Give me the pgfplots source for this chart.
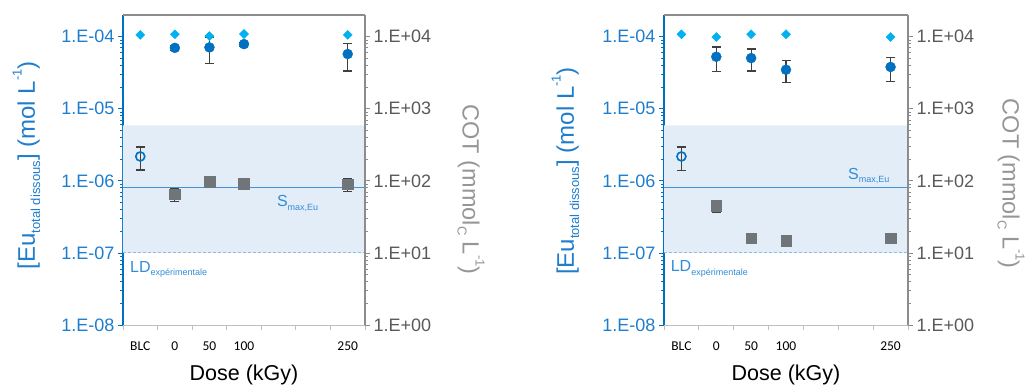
\documentclass[border=0pt]{standalone}
\usepackage{fontspec}
\setmainfont{Liberation Sans}
\newfontfamily\carlito{Carlito}
\usepackage{pgfplots}
\pgfplotsset{compat=1.18}
\definecolor{eublue}{RGB}{0,112,192}
\definecolor{ticblue}{RGB}{30,125,205}
\definecolor{diamc}{RGB}{0,176,240}
\definecolor{bandc}{RGB}{227,237,248}
\definecolor{smaxc}{RGB}{70,145,215}
\definecolor{ldc}{RGB}{140,185,230}
\definecolor{txtb}{RGB}{50,140,215}
\definecolor{sqc}{RGB}{112,117,122}
\definecolor{errc}{RGB}{64,64,64}
\definecolor{rgray}{RGB}{89,89,89}
\definecolor{cotgray}{RGB}{150,150,150}
\definecolor{axgray}{RGB}{140,140,140}
\definecolor{xgray}{RGB}{191,191,191}
\newcommand\msub[2]{\raisebox{-0.22em}{\fontsize{#1}{#1}\selectfont #2}}
\newcommand\msup[2]{\raisebox{0.55em}{\fontsize{#1}{#1}\selectfont #2}}
\pgfplotsset{
 myfilled/.style={only marks, mark=*, mark size=5pt, mark options={fill=eublue, draw=eublue},
   error bars/y dir=both, error bars/y explicit,
   error bars/error bar style={color=errc, line width=1.2pt},
   error bars/error mark options={rotate=90, mark size=4.5pt, color=errc, line width=1.2pt}},
 myopen/.style={only marks, mark=o, mark size=4.5pt, mark options={draw=eublue, fill=white, line width=1.6pt},
   error bars/y dir=both, error bars/y explicit,
   error bars/error bar style={color=errc, line width=1.2pt},
   error bars/error mark options={rotate=90, mark size=4.5pt, color=errc, line width=1.2pt}},
 mydiam/.style={only marks, mark=square*, mark size=3.2pt, mark options={rotate=45, fill=diamc, draw=diamc}},
 mysq/.style={only marks, mark=square*, mark size=5.3pt, mark options={fill=sqc, draw=sqc, rounded corners=1.5pt},
   error bars/y dir=both, error bars/y explicit,
   error bars/error bar style={color=errc, line width=1.2pt},
   error bars/error mark options={rotate=90, mark size=4.5pt, color=errc, line width=1.2pt}}
}
\begin{document}
\begin{tikzpicture}
\path[use as bounding box] (0,0) rectangle (1025pt,388pt);
% ---------- left panel ----------
\begin{axis}[scale only axis, width=242pt, height=310pt, at={(123pt,63pt)}, anchor=south west,
   xmin=0, xmax=7, ymode=log, ymin=1e-8, ymax=2e-4, clip=false,
   tick align=outside, major tick length=5pt, minor tick length=3pt,
   axis x line*=bottom, axis y line*=left,
   ytick={1e-8,1e-7,1e-6,1e-5,1e-4},
   yticklabels={1.E-08,1.E-07,1.E-06,1.E-05,1.E-04},
   minor ytick={2e-8,3e-8,4e-8,5e-8,6e-8,7e-8,8e-8,9e-8,2e-7,3e-7,4e-7,5e-7,6e-7,7e-7,8e-7,9e-7,2e-6,3e-6,4e-6,5e-6,6e-6,7e-6,8e-6,9e-6,2e-5,3e-5,4e-5,5e-5,6e-5,7e-5,8e-5,9e-5},
   xtick={0,1,2,3,4,5,6,7}, xticklabels={},
   extra x ticks={0.5,1.5,2.5,3.5,6.5},
   extra x tick labels={BLC,0,50,100,250},
   extra x tick style={major tick length=0pt, tick label style={yshift=-13pt}},
   x axis line style={-, draw=xgray, line width=1pt},
   y axis line style={-, draw=eublue, line width=1.5pt},
   xtick style={draw=xgray, line width=0.8pt},
   ytick style={draw=eublue, line width=0.8pt},
   yticklabel style={font=\fontsize{18}{18}\selectfont, text=ticblue},
   xticklabel style={font=\carlito\fontsize{13.5}{13.5}\selectfont, text=black},
   xlabel={Dose (kGy)},
   xlabel style={font=\fontsize{21.5}{21.5}\selectfont, at={(axis description cs:0.5,-0.161)}, anchor=center},
   ylabel={[Eu\msub{13}{total dissous}] (mol L\msup{13}{-1})},
   ylabel style={font=\fontsize{24}{24}\selectfont, text=ticblue, anchor=center, at={(axis description cs:-0.399,0.515)}}]
\addplot[draw=none, fill=bandc, mark=none, forget plot] coordinates {(0,1e-7) (7,1e-7) (7,5.9e-6) (0,5.9e-6) (0,1e-7)};
\addplot[draw=smaxc, mark=none, line width=1pt, forget plot] coordinates {(0,8e-7) (7,8e-7)};
\addplot[draw=ldc, mark=none, line width=1pt, dash pattern=on 3pt off 2pt, forget plot] coordinates {(0,1e-7) (7,1e-7)};
\addplot[myopen] coordinates {(0.5,2.18e-6) +- (0,0.77e-6)};
\addplot[myfilled] coordinates {(1.5,7.0e-5) +- (0,0.6e-5) (2.5,7.1e-5) +- (0,2.8e-5) (3.5,7.9e-5) +- (0,0.5e-5) (6.5,5.75e-5) +- (0,2.4e-5)};
\addplot[mydiam] coordinates {(0.5,1.06e-4) (1.5,1.08e-4) (2.5,1.02e-4) (3.5,1.09e-4) (6.5,1.06e-4)};
\node[anchor=base west, text=txtb, inner sep=0pt] at (axis cs:4.45,4.4e-7) {\fontsize{16}{16}\selectfont S\msub{9}{max,Eu}};
\node[anchor=base west, text=txtb, inner sep=0pt] at (axis cs:0.2,5.4e-8) {\fontsize{16}{16}\selectfont LD\msub{9}{expérimentale}};
\end{axis}
\begin{axis}[scale only axis, width=242pt, height=310pt, at={(123pt,63pt)}, anchor=south west,
   xmin=0, xmax=7, ymode=log, ymin=1, ymax=2e4, clip=false,
   tick align=outside, major tick length=5pt, minor tick length=3pt,
   axis x line*=top, axis y line*=right, xtick=\empty,
   ytick={1,10,100,1000,10000},
   yticklabels={1.E+00,1.E+01,1.E+02,1.E+03,1.E+04},
   minor ytick={2,3,4,5,6,7,8,9,20,30,40,50,60,70,80,90,200,300,400,500,600,700,800,900,2000,3000,4000,5000,6000,7000,8000,9000},
   x axis line style={-, draw=axgray, line width=1.5pt},
   y axis line style={-, draw=axgray, line width=1.5pt},
   ytick style={draw=axgray, line width=0.8pt},
   yticklabel style={font=\fontsize{18}{18}\selectfont, text=rgray},
   ylabel={COT (mmol\msub{13}{C} L\msup{13}{-1})},
   ylabel style={font=\fontsize{23.5}{23.5}\selectfont, text=cotgray, anchor=center, rotate=180, at={(axis description cs:1.438,0.437)}}]
\addplot[mysq] coordinates {(1.5,65) +- (0,13) (2.5,97) +- (0,6) (3.5,92) +- (0,16) (6.5,90) +- (0,19)};
\end{axis}
% ---------- right panel ----------
\begin{axis}[scale only axis, width=244pt, height=310pt, at={(664pt,63pt)}, anchor=south west,
   xmin=0, xmax=7, ymode=log, ymin=1e-8, ymax=2e-4, clip=false,
   tick align=outside, major tick length=5pt, minor tick length=3pt,
   axis x line*=bottom, axis y line*=left,
   ytick={1e-8,1e-7,1e-6,1e-5,1e-4},
   yticklabels={1.E-08,1.E-07,1.E-06,1.E-05,1.E-04},
   minor ytick={2e-8,3e-8,4e-8,5e-8,6e-8,7e-8,8e-8,9e-8,2e-7,3e-7,4e-7,5e-7,6e-7,7e-7,8e-7,9e-7,2e-6,3e-6,4e-6,5e-6,6e-6,7e-6,8e-6,9e-6,2e-5,3e-5,4e-5,5e-5,6e-5,7e-5,8e-5,9e-5},
   xtick={0,1,2,3,4,5,6,7}, xticklabels={},
   extra x ticks={0.5,1.5,2.5,3.5,6.5},
   extra x tick labels={BLC,0,50,100,250},
   extra x tick style={major tick length=0pt, tick label style={yshift=-13pt}},
   x axis line style={-, draw=xgray, line width=1pt},
   y axis line style={-, draw=eublue, line width=1.5pt},
   xtick style={draw=xgray, line width=0.8pt},
   ytick style={draw=eublue, line width=0.8pt},
   yticklabel style={font=\fontsize{18}{18}\selectfont, text=ticblue},
   xticklabel style={font=\carlito\fontsize{13.5}{13.5}\selectfont, text=black},
   xlabel={Dose (kGy)},
   xlabel style={font=\fontsize{21.5}{21.5}\selectfont, at={(axis description cs:0.5,-0.161)}, anchor=center},
   ylabel={[Eu\msub{13}{total dissous}] (mol L\msup{13}{-1})},
   ylabel style={font=\fontsize{24}{24}\selectfont, text=ticblue, anchor=center, at={(axis description cs:-0.404,0.497)}}]
\addplot[draw=none, fill=bandc, mark=none, forget plot] coordinates {(0,1e-7) (7,1e-7) (7,5.9e-6) (0,5.9e-6) (0,1e-7)};
\addplot[draw=smaxc, mark=none, line width=1pt, forget plot] coordinates {(0,8e-7) (7,8e-7)};
\addplot[draw=ldc, mark=none, line width=1pt, dash pattern=on 3pt off 2pt, forget plot] coordinates {(0,1e-7) (7,1e-7)};
\addplot[myopen] coordinates {(0.5,2.18e-6) +- (0,0.77e-6)};
\addplot[myfilled] coordinates {(1.5,5.27e-5) +- (0,1.95e-5) (2.5,5.05e-5) +- (0,1.7e-5) (3.5,3.48e-5) +- (0,1.15e-5) (6.5,3.8e-5) +- (0,1.4e-5)};
\addplot[mydiam] coordinates {(0.5,1.08e-4) (1.5,0.99e-4) (2.5,1.08e-4) (3.5,1.08e-4) (6.5,0.99e-4)};
\node[anchor=base west, text=txtb, inner sep=0pt] at (axis cs:5.28,1.06e-6) {\fontsize{16}{16}\selectfont S\msub{9}{max,Eu}};
\node[anchor=base west, text=txtb, inner sep=0pt] at (axis cs:0.19,5.5e-8) {\fontsize{16}{16}\selectfont LD\msub{9}{expérimentale}};
\end{axis}
\begin{axis}[scale only axis, width=244pt, height=310pt, at={(664pt,63pt)}, anchor=south west,
   xmin=0, xmax=7, ymode=log, ymin=1, ymax=2e4, clip=false,
   tick align=outside, major tick length=5pt, minor tick length=3pt,
   axis x line*=top, axis y line*=right, xtick=\empty,
   ytick={1,10,100,1000,10000},
   yticklabels={1.E+00,1.E+01,1.E+02,1.E+03,1.E+04},
   minor ytick={2,3,4,5,6,7,8,9,20,30,40,50,60,70,80,90,200,300,400,500,600,700,800,900,2000,3000,4000,5000,6000,7000,8000,9000},
   x axis line style={-, draw=axgray, line width=1.5pt},
   y axis line style={-, draw=axgray, line width=1.5pt},
   ytick style={draw=axgray, line width=0.8pt},
   yticklabel style={font=\fontsize{18}{18}\selectfont, text=rgray},
   ylabel={COT (mmol\msub{13}{C} L\msup{13}{-1})},
   ylabel style={font=\fontsize{23.5}{23.5}\selectfont, text=cotgray, anchor=center, rotate=180, at={(axis description cs:1.422,0.456)}}]
\addplot[mysq] coordinates {(1.5,45) +- (0,9) (2.5,16) +- (0,2) (3.5,14.7) +- (0,2.5) (6.5,16) +- (0,2)};
\end{axis}
\end{tikzpicture}
\end{document}
